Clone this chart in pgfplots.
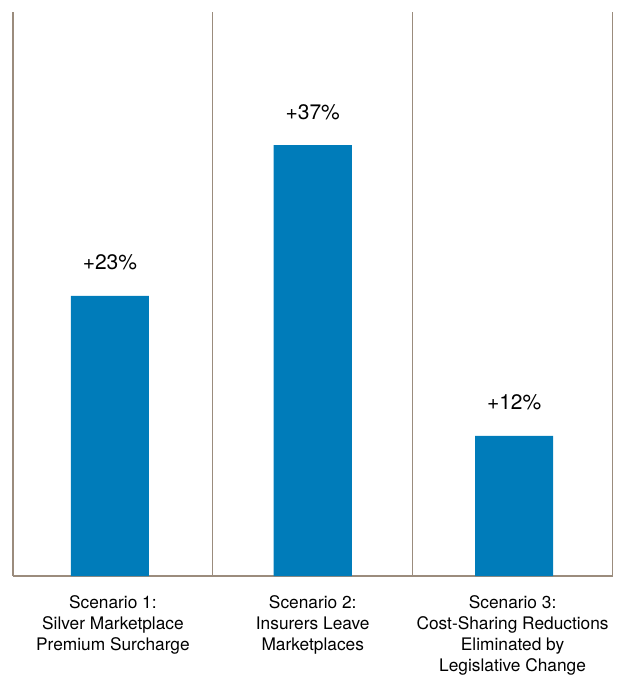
\documentclass[border=0pt]{standalone}
\usepackage{pgfplots}
\pgfplotsset{compat=1.18}
\usepackage{pgfplotstable}
\usepackage{fontspec}
\setmainfont{TeX Gyre Heros}
\definecolor{barblue}{RGB}{0,124,186}
\definecolor{linecol}{RGB}{155,140,125}
\pgfplotstableread{
x y lab
-0.015 24.0 23
1 36.9 37
2.008 12.0 12
}\datatable
\begin{document}
\begin{tikzpicture}
\begin{axis}[
  scale only axis,
  width=599.5pt, height=564pt,
  xmin=-0.5, xmax=2.5, ymin=0, ymax=48.3,
  axis x line=bottom, axis y line=none,
  axis line style={-, draw=linecol, line width=1.5pt},
  xtick={0,1,2},
  xticklabels={{Scenario 1:\\Silver Marketplace\\Premium Surcharge},{Scenario 2:\\Insurers Leave\\Marketplaces},{Scenario 3:\\Cost-Sharing Reductions\\Eliminated by\\Legislative Change}},
  xticklabel style={align=center, font=\fontsize{17.3}{21}\selectfont, text=black, yshift=-16pt},
  major tick length=0pt,
  extra x ticks={-0.5,0.5,1.5,2.5},
  extra x tick labels={},
  extra x tick style={grid=major, major tick length=0pt},
  major grid style={draw=linecol, line width=1.3pt},
  ybar, bar width=78pt,
  point meta=explicit symbolic,
  nodes near coords={+\pgfplotspointmeta\%},
  every node near coord/.append style={anchor=base, yshift=26pt, font=\fontsize{21}{25}\selectfont, text=black},
  clip=false,
]
\addplot[fill=barblue, draw=none] table[x=x, y=y, meta=lab] {\datatable};
\end{axis}
\pgfresetboundingbox
\path[use as bounding box] (-13pt,-102pt) rectangle (606pt,576pt);
\end{tikzpicture}
\end{document}
